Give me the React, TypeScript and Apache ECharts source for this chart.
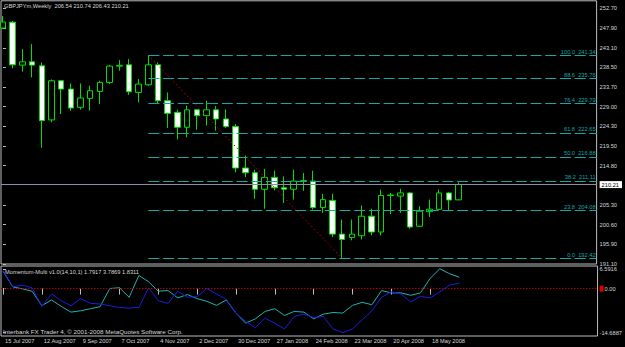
import React, { useEffect, useRef } from "react";
import * as echarts from "echarts";

const weeks = [
  "15 Jul 2007", "22 Jul 2007", "29 Jul 2007", "5 Aug 2007", "12 Aug 2007", "19 Aug 2007", "26 Aug 2007",
  "2 Sep 2007", "9 Sep 2007", "16 Sep 2007", "23 Sep 2007", "30 Sep 2007", "7 Oct 2007", "14 Oct 2007",
  "21 Oct 2007", "28 Oct 2007", "4 Nov 2007", "11 Nov 2007", "18 Nov 2007", "25 Nov 2007", "2 Dec 2007",
  "9 Dec 2007", "16 Dec 2007", "23 Dec 2007", "30 Dec 2007", "6 Jan 2008", "13 Jan 2008", "20 Jan 2008",
  "27 Jan 2008", "3 Feb 2008", "10 Feb 2008", "17 Feb 2008", "24 Feb 2008", "2 Mar 2008", "9 Mar 2008",
  "16 Mar 2008", "23 Mar 2008", "30 Mar 2008", "6 Apr 2008", "13 Apr 2008", "20 Apr 2008", "27 Apr 2008",
  "4 May 2008", "11 May 2008", "18 May 2008", "25 May 2008", "1 Jun 2008", "8 Jun 2008",
];

const opens = [
  247.9, 249.3, 238.96, 239.75, 238.79, 225.77, 235.2, 233.2, 228.8, 230.95, 232.63, 234.8,
  238.72, 239.03, 232.39, 234.23, 239.03, 230.4, 227.6, 224.0, 228.2, 226.8, 228.2, 226.0,
  224.2, 214.2, 213.06, 209.1, 211.93, 209.46, 209.1, 211.05, 211.05, 204.67, 206.4, 198.3,
  197.48, 197.9, 202.6, 198.8, 207.6, 207.45, 208.2, 200.18, 203.7, 204.26, 208.2, 206.54,
];
const closes = [
  249.34, 239.03, 239.75, 238.96, 225.6, 235.2, 233.2, 228.65, 231.05, 232.8, 234.8, 238.72,
  238.9, 232.56, 234.4, 239.03, 230.4, 227.35, 224.0, 228.2, 226.8, 228.2, 226.0, 224.2,
  214.2, 213.06, 209.1, 211.93, 209.46, 209.1, 211.05, 211.15, 204.67, 206.6, 198.3, 197.0,
  198.3, 202.6, 198.8, 207.6, 207.7, 208.2, 200.0, 203.8, 204.3, 208.2, 206.5, 210.21,
];
const lows = [
  247.66, 238.2, 237.4, 236.0, 219.1, 225.2, 227.2, 228.0, 228.24, 228.0, 229.6, 234.4,
  237.6, 231.8, 230.0, 234.0, 229.6, 223.85, 221.1, 221.6, 223.4, 224.4, 223.2, 223.85,
  213.2, 212.0, 206.8, 204.4, 208.8, 205.8, 206.6, 208.7, 204.2, 203.4, 197.6, 192.42,
  196.8, 197.0, 198.0, 198.0, 203.1, 203.4, 199.6, 200.0, 202.4, 204.2, 204.0, 206.43,
];
const highs = [
  250.78, 249.6, 242.8, 244.0, 239.6, 235.5, 235.3, 234.55, 234.55, 234.0, 235.2, 239.03,
  240.15, 240.4, 235.6, 241.34, 239.6, 232.4, 228.2, 229.2, 228.4, 230.4, 229.1, 228.3,
  224.8, 217.2, 213.8, 214.0, 213.6, 212.2, 213.8, 213.0, 213.54, 208.0, 208.0, 201.8,
  201.8, 205.2, 204.4, 209.0, 208.2, 209.2, 208.4, 205.0, 206.6, 209.0, 208.4, 210.74,
];

const momentumTeal = [
  5.86, 0.58, -0.09, -0.88, -5.7, -3.8, -5.93, -7.84, -7.39, -6.71, -6.04, 0.02,
  0.3, -2.9, 4.4, 2.26, -0.88, -0.65, -3.1, -2.0, -3.35, -4.25, -5.59, -3.8,
  -8.17, -11.54, -10.08, -7.61, -6.71, -8.96, -7.61, -7.84, -10.08, -8.51, -7.95, -8.17,
  -5.59, -4.58, -5.37, -0.65, -1.44, -1.44, -2.23, -1.44, 3.39, 6.5916, 4.96, 3.7869,
];
const momentumBlue = [
  6.08, 0.58, 1.14, 0.24, -5.93, -1.78, -4.02, -5.7, -3.35, -4.92, -5.14, -5.7,
  -6.27, -6.49, -6.27, 0.24, -4.02, -4.92, -0.88, -2.9, -2.67, 0.02, -1.78, -3.57,
  -8.17, -10.98, -13.0, -9.86, -11.54, -13.45, -9.3, -8.51, -9.63, -9.3, -13.45, -14.6887,
  -13.45, -10.42, -7.39, -2.9, -1.1, -1.78, -4.47, -2.56, -3.12, -1.1, 1.14, 1.8311,
];

const priceTicks = [252.7, 247.9, 243.1, 238.5, 233.7, 229.0, 224.3, 219.5, 214.8, 210.21, 205.3, 200.6, 195.9, 191.1];
const momentumTicks = [6.5916, 0, -14.6887];
const fibLevels = [100.0, 88.6, 76.4, 61.8, 50.0, 38.2, 23.8, 0.0];
const fibPrices = [241.34, 235.76, 229.79, 222.65, 216.88, 211.11, 204.08, 192.42];
const fibHighWeek = 15;
const fibLowWeek = 35;
const lastPrice = 210.21;
const dateTickWeeks = [0, 4, 8, 12, 16, 20, 24, 28, 32, 36, 40, 44];

const titleText = "GBPJPYm,Weekly  206.54 210.74 206.43 210.21";
const indicatorText = "Momentum-Multi v1.0(14,10,1) 1.7917 3.7869 1.8311";
const copyrightText = "Interbank FX Trader 4, \u00a9 2001-2008 MetaQuotes Software Corp.";

const FONT = "Liberation Sans";
const FS = 5.7;
const TEXT = "#d8d8d8";
const FIB = "#16a8a8";
const GREEN = "#00e000";
const X_MIN = -0.2045;
const X_MAX = X_MIN + 601 / 9.78;

export default function App() {
  const ref = useRef<HTMLDivElement>(null);

  useEffect(() => {
    document.body.style.margin = "0";
    document.body.style.background = "#000";
    const chart = echarts.init(ref.current!, null, { renderer: "svg" });

    const candleData = weeks.map((_, i) => [i, opens[i], closes[i], lows[i], highs[i]]);
    const tealData = momentumTeal.map((v, i) => [i, v]);
    const blueData = momentumBlue.map((v, i) => [i, v]);

    const fibMarks = fibLevels.map((lvl, k) => [
      {
        coord: [fibHighWeek, fibPrices[k]],
        label: {
          show: true,
          position: "insideEndTop",
          distance: [1, 0.5],
          formatter: `${lvl.toFixed(1)}  ${fibPrices[k].toFixed(2)}`,
          color: FIB,
          fontSize: FS,
          fontFamily: FONT,
        },
      },
      { coord: [X_MAX, fibPrices[k]] },
    ]);

    const option: any = {
      animation: false,
      backgroundColor: "#000000",
      grid: [
        { left: 1, top: 0.8, width: 601, height: 263.2, show: true, borderColor: "#bdbdbd", borderWidth: 1 },
        { left: 1, top: 266, width: 601, height: 70, show: true, borderColor: "#bdbdbd", borderWidth: 1 },
      ],
      xAxis: [
        {
          type: "value", gridIndex: 0, min: X_MIN, max: X_MAX,
          axisLine: { show: false }, axisTick: { show: false }, axisLabel: { show: false }, splitLine: { show: false },
        },
        {
          type: "value", gridIndex: 1, min: X_MIN, max: X_MAX,
          axisLine: { show: false },
          axisTick: { show: true, customValues: dateTickWeeks, length: 6, lineStyle: { color: "#bdbdbd", width: 1 } },
          axisLabel: {
            show: true, customValues: dateTickWeeks, align: "left", margin: 2,
            formatter: (v: number) => weeks[Math.round(v)] ?? "",
            color: TEXT, fontSize: FS, fontFamily: FONT, padding: [0, 0, 0, 2],
          },
          splitLine: { show: false },
        },
      ],
      yAxis: [
        {
          type: "value", gridIndex: 0, position: "right", min: 191.1, max: 254.44,
          axisLine: { show: false },
          axisTick: { show: true, customValues: priceTicks, length: 3, lineStyle: { color: "#bdbdbd" } },
          axisLabel: {
            customValues: priceTicks, margin: 3, color: TEXT, fontSize: FS, fontFamily: FONT,
            formatter: (v: number) =>
              Math.abs(v - lastPrice) < 1e-6 ? `{cur|${v.toFixed(2)}}` : v.toFixed(2),
            rich: {
              cur: { backgroundColor: "#ffffff", color: "#000000", fontSize: FS, fontFamily: FONT, padding: [1, 3, 0, 2] },
            },
          },
          splitLine: { show: false },
        },
        {
          type: "value", gridIndex: 1, position: "right", min: -15.8, max: 7.53,
          axisLine: { show: false },
          axisTick: { show: true, customValues: momentumTicks, length: 3, lineStyle: { color: "#bdbdbd" } },
          axisLabel: {
            customValues: momentumTicks, margin: 2, color: TEXT, fontSize: FS, fontFamily: FONT,
            formatter: (v: number) => (v === 0 ? "{m|}{z|0.00}" : v.toFixed(4)),
            rich: {
              m: { backgroundColor: "#e00000", width: 4, height: 6 },
              z: { color: TEXT, fontSize: FS, fontFamily: FONT, padding: [0, 0, 0, 1] },
            },
          },
          splitLine: { show: false },
        },
      ],
      graphic: [
        { type: "text", left: 4, top: 2.5, silent: true, style: { text: titleText, fill: TEXT, fontSize: FS, fontFamily: FONT } },
        { type: "text", left: 5, top: 269, silent: true, style: { text: indicatorText, fill: TEXT, fontSize: FS, fontFamily: FONT } },
        { type: "text", left: 3, top: 328, silent: true, style: { text: copyrightText, fill: TEXT, fontSize: 6.25, fontFamily: FONT } },
      ],
      series: [
        {
          type: "candlestick",
          xAxisIndex: 0, yAxisIndex: 0,
          data: candleData,
          dimensions: ["week", "open", "close", "lowest", "highest"],
          encode: { x: 0, y: [1, 2, 3, 4] },
          barWidth: 6,
          silent: true,
          itemStyle: {
            color: "#000000", color0: "#ffffff",
            borderColor: GREEN, borderColor0: GREEN, borderColorDoji: GREEN, borderWidth: 1,
          },
          markLine: {
            silent: true, symbol: ["none", "none"],
            label: { show: false },
            lineStyle: { color: "#8e8ea4", type: "solid", width: 1 },
            data: [{ yAxis: lastPrice }],
          },
        },
        {
          type: "line",
          xAxisIndex: 0, yAxisIndex: 0,
          data: [[fibHighWeek, fibPrices[0]], [fibLowWeek, fibPrices[fibPrices.length - 1]]],
          symbol: "none", silent: true,
          lineStyle: { color: "#c00000", width: 1, type: [1.5, 2.5] },
          markLine: {
            silent: true, symbol: ["none", "none"],
            lineStyle: { color: FIB, type: [11, 3.7], width: 1 },
            data: fibMarks,
          },
        },
        {
          type: "line",
          xAxisIndex: 1, yAxisIndex: 1,
          data: tealData, symbol: "none", silent: true,
          lineStyle: { color: "#20b2aa", width: 1 },
          markLine: {
            silent: true, symbol: ["none", "none"],
            label: { show: false },
            lineStyle: { color: "#b00000", type: [1.5, 1.5], width: 1 },
            data: [{ yAxis: 0 }],
          },
        },
        {
          type: "line",
          xAxisIndex: 1, yAxisIndex: 1,
          data: blueData, symbol: "none", silent: true,
          lineStyle: { color: "#1c1ce0", width: 1 },
        },
      ],
    };

    chart.setOption(option);
    return () => chart.dispose();
  }, []);

  return (
    <div
      ref={ref}
      style={{ position: "fixed", left: 0, top: 0, width: 625, height: 347, background: "#000" }}
    />
  );
}
